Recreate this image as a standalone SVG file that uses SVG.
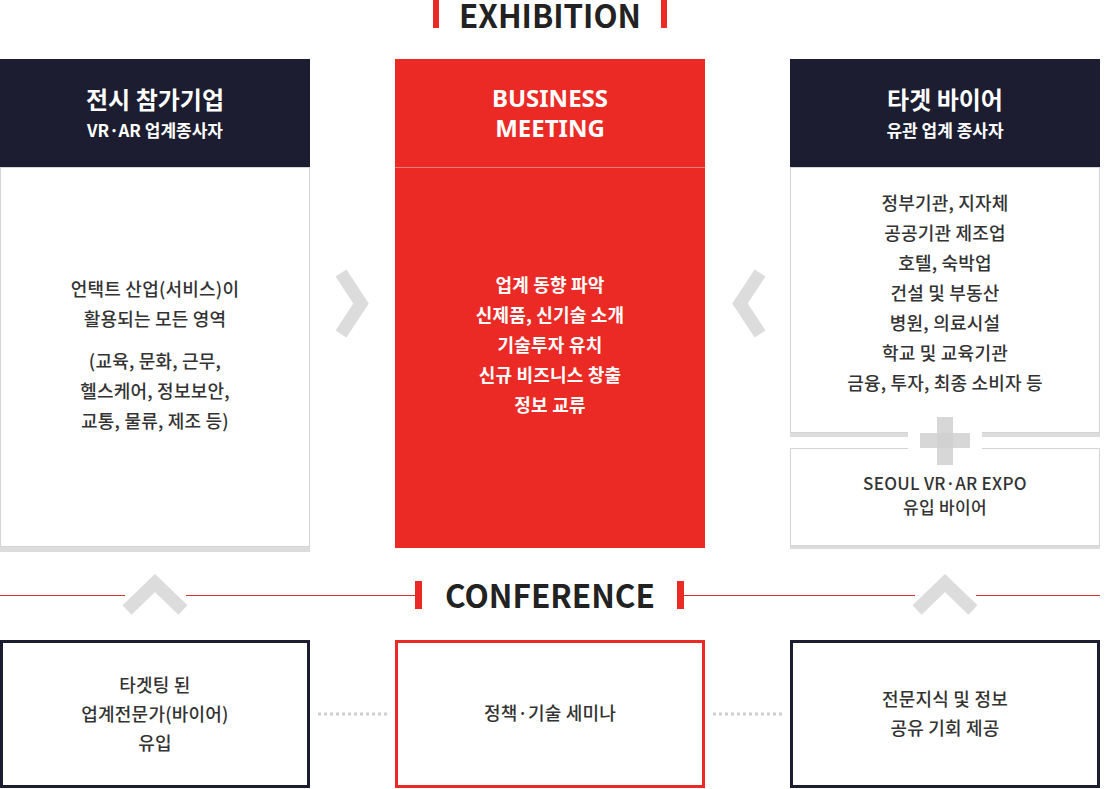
<svg xmlns="http://www.w3.org/2000/svg" width="1111" height="789" viewBox="0 0 1111 789">
<style>
text{font-family:"Noto Sans CJK KR","Noto Sans",sans-serif;text-anchor:middle}
.ttl{font-size:32px;font-weight:700;fill:#222}
.hd1{font-size:24px;font-weight:700;fill:#fff}
.hd2{font-size:17px;font-weight:700;fill:#fff}
.en{font-size:24px;font-weight:700;fill:#fff;font-family:"Noto Sans","Noto Sans CJK KR",sans-serif}
.bd{font-size:18px;font-weight:500;fill:#333;letter-spacing:0.2px}
.sm{font-size:17px;font-weight:500;fill:#333;letter-spacing:0.3px}
.wb{font-size:18px;font-weight:700;fill:#fff;letter-spacing:0.2px}
.navy{fill:#1c1d30}
.red{fill:#eb2a26}
.card{fill:#fff;stroke:#d5d5d5;stroke-width:1}
.shadow{fill:#dcdcdc}
.chev{fill:none;stroke:#dcdcdc;stroke-width:13}
</style>
<rect width="1111" height="789" fill="#fff"/>

<g id="title-exhibition">
<rect x="433" y="0" width="6" height="28" class="red"/>
<rect x="661" y="0" width="6" height="28" class="red"/>
<text x="550" y="28" class="ttl" textLength="182" lengthAdjust="spacingAndGlyphs">EXHIBITION</text>
</g>

<g id="node-exhibitors">
<rect x="0" y="546" width="310" height="6" class="shadow"/>
<rect x="0.5" y="167.5" width="309" height="379" class="card"/>
<rect x="0" y="59" width="310" height="108" class="navy"/>
<text x="155" y="109" class="hd1">전시 참가기업</text>
<text x="155" y="137" class="hd2">VR·AR 업계종사자</text>
<text x="155" y="296" class="bd">언택트 산업(서비스)이</text>
<text x="155" y="326" class="bd">활용되는 모든 영역</text>
<text x="155" y="368" class="bd">(교육, 문화, 근무,</text>
<text x="155" y="398" class="bd">헬스케어, 정보보안,</text>
<text x="155" y="428" class="bd">교통, 물류, 제조 등)</text>
</g>

<g id="node-business-meeting">
<rect x="395" y="59" width="310" height="489" class="red"/>
<line x1="395" y1="167.5" x2="705" y2="167.5" stroke="#f07a77" stroke-width="1"/>
<text x="550" y="107" class="en">BUSINESS</text>
<text x="550" y="137" class="en">MEETING</text>
<text x="550" y="292" class="wb">업계 동향 파악</text>
<text x="550" y="322" class="wb">신제품, 신기술 소개</text>
<text x="550" y="352" class="wb">기술투자 유치</text>
<text x="550" y="382" class="wb">신규 비즈니스 창출</text>
<text x="550" y="412" class="wb">정보 교류</text>
</g>

<g id="node-target-buyers">
<rect x="790" y="432" width="310" height="5" class="shadow"/>
<rect x="790.5" y="167.5" width="309" height="265" class="card"/>
<rect x="790" y="59" width="310" height="108" class="navy"/>
<text x="945" y="109" class="hd1">타겟 바이어</text>
<text x="945" y="137" class="hd2">유관 업계 종사자</text>
<text x="945" y="210" class="bd">정부기관, 지자체</text>
<text x="945" y="240" class="bd">공공기관 제조업</text>
<text x="945" y="270" class="bd">호텔, 숙박업</text>
<text x="945" y="300" class="bd">건설 및 부동산</text>
<text x="945" y="330" class="bd">병원, 의료시설</text>
<text x="945" y="360" class="bd">학교 및 교육기관</text>
<text x="945" y="390" class="bd">금융, 투자, 최종 소비자 등</text>
</g>

<g id="node-expo-buyers">
<rect x="790" y="545" width="310" height="4" class="shadow"/>
<rect x="790.5" y="448.5" width="309" height="97" class="card"/>
<text x="945" y="490" class="sm">SEOUL VR·AR EXPO</text>
<text x="945" y="514" class="sm">유입 바이어</text>
</g>

<g id="plus">
<rect x="908" y="425" width="74" height="30" fill="#fff"/>
<rect x="937" y="417" width="16" height="48" fill="#d0d0d0" fill-opacity="0.85"/>
<rect x="920" y="433" width="50" height="15" fill="#d0d0d0" fill-opacity="0.85"/>
</g>

<g id="title-conference">
<rect x="415" y="581" width="7" height="28" class="red"/>
<rect x="677" y="581" width="7" height="28" class="red"/>
<text x="550" y="608" class="ttl" textLength="210" lengthAdjust="spacingAndGlyphs">CONFERENCE</text>
</g>

<g id="connectors">
<line x1="0" y1="595.5" x2="125" y2="595.5" stroke="#d8302c" stroke-width="1"/>
<line x1="186" y1="595.5" x2="415" y2="595.5" stroke="#d8302c" stroke-width="1"/>
<line x1="684" y1="595.5" x2="915" y2="595.5" stroke="#d8302c" stroke-width="1"/>
<line x1="976" y1="595.5" x2="1100" y2="595.5" stroke="#d8302c" stroke-width="1"/>
<polyline points="127,610 155,583 183,610" class="chev"/>
<polyline points="917,610 945,583 973,610" class="chev"/>
<polyline points="341,273 361,303.5 341,334" class="chev"/>
<polyline points="760,273 740,303.5 760,334" class="chev"/>
<line x1="318" y1="714" x2="388" y2="714" stroke="#cfcfcf" stroke-width="3" stroke-dasharray="3 3"/>
<line x1="713" y1="714" x2="783" y2="714" stroke="#cfcfcf" stroke-width="3" stroke-dasharray="3 3"/>
</g>

<g id="node-targeted-experts">
<rect x="1.5" y="641.5" width="307" height="145" fill="#fff" stroke="#1c1d30" stroke-width="3"/>
<text x="155" y="692" class="bd">타겟팅 된</text>
<text x="155" y="721" class="bd">업계전문가(바이어)</text>
<text x="155" y="750" class="bd">유입</text>
</g>

<g id="node-seminar">
<rect x="396.5" y="641.5" width="307" height="145" fill="#fff" stroke="#eb2a26" stroke-width="3"/>
<text x="550" y="720" class="bd">정책·기술 세미나</text>
</g>

<g id="node-knowledge">
<rect x="791.5" y="641.5" width="307" height="145" fill="#fff" stroke="#1c1d30" stroke-width="3"/>
<text x="945" y="706" class="bd">전문지식 및 정보</text>
<text x="945" y="735" class="bd">공유 기회 제공</text>
</g>
</svg>
